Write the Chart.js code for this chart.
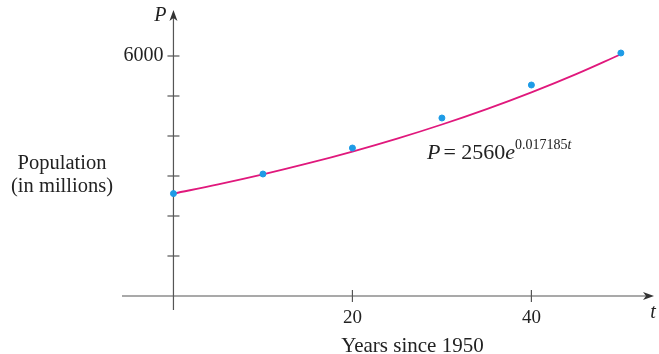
<!DOCTYPE html>
<html>
<head>
<meta charset="utf-8">
<script src="https://cdn.jsdelivr.net/npm/chart.js@4"></script>
<style>
  html, body { margin: 0; padding: 0; background: #fff; }
  #wrap { width: 659px; height: 354px; position: relative; }
</style>
</head>
<body>
<div id="wrap"><canvas id="popChart" width="659" height="354"></canvas></div>
<script>
// data
const years = [0, 10, 20, 30, 40, 50];
const population = [2560, 3050, 3700, 4450, 5275, 6075];

// fitted curve P = 2560 e^(0.017185 t), values written out
const curveT = [0, 5, 10, 15, 20, 25, 30, 35, 40, 45, 50];
const curveP = [2560, 2790, 3040, 3313, 3610, 3934, 4287, 4672, 5091, 5548, 6045];

const xTickLabels = [20, 40];
const yTickValues = [1000, 2000, 3000, 4000, 5000, 6000];
const yTickLabels = ['6000'];

const serif = '"Liberation Serif", "DejaVu Serif", serif';

const axesPlugin = {
    id: 'axesPlugin',
    beforeDatasetsDraw(chart) {
        const ctx = chart.ctx;
        const x = chart.scales.x;
        const y = chart.scales.y;
        const area = chart.chartArea;
        const x0 = x.getPixelForValue(0);
        const y0 = y.getPixelForValue(0);

        ctx.save();
        ctx.strokeStyle = '#555';
        ctx.fillStyle = '#333';
        ctx.lineWidth = 1.2;

        // x axis
        ctx.beginPath();
        ctx.moveTo(area.left, y0);
        ctx.lineTo(area.right - 6, y0);
        ctx.stroke();
        ctx.beginPath();
        ctx.moveTo(area.right, y0);
        ctx.lineTo(area.right - 11, y0 - 4);
        ctx.lineTo(area.right - 8, y0);
        ctx.lineTo(area.right - 11, y0 + 4);
        ctx.closePath();
        ctx.fill();

        // y axis
        ctx.beginPath();
        ctx.moveTo(x0, area.bottom);
        ctx.lineTo(x0, area.top + 6);
        ctx.stroke();
        ctx.beginPath();
        ctx.moveTo(x0, area.top);
        ctx.lineTo(x0 - 4, area.top + 11);
        ctx.lineTo(x0, area.top + 8);
        ctx.lineTo(x0 + 4, area.top + 11);
        ctx.closePath();
        ctx.fill();

        // y ticks
        yTickValues.forEach(v => {
            const py = y.getPixelForValue(v);
            ctx.beginPath();
            ctx.moveTo(x0 - 6, py);
            ctx.lineTo(x0 + 6, py);
            ctx.stroke();
        });
        // x ticks
        xTickLabels.forEach(v => {
            const px = x.getPixelForValue(v);
            ctx.beginPath();
            ctx.moveTo(px, y0 - 6);
            ctx.lineTo(px, y0 + 6);
            ctx.stroke();
        });

        ctx.fillStyle = '#222';
        ctx.font = '20px ' + serif;
        ctx.textAlign = 'right';
        ctx.textBaseline = 'middle';
        yTickLabels.forEach(l => {
            ctx.fillText(l, x0 - 10, y.getPixelForValue(Number(l)));
        });
        ctx.textAlign = 'center';
        ctx.textBaseline = 'middle';
        ctx.font = '19px ' + serif;
        xTickLabels.forEach(v => {
            ctx.fillText(String(v), x.getPixelForValue(v), y0 + 22);
        });

        // axis titles
        ctx.font = '21px ' + serif;
        ctx.fillText('Years since 1950', x.getPixelForValue(26.7), y0 + 50);
        ctx.font = '20.5px ' + serif;
        ctx.fillText('Population', 62, 164);
        ctx.fillText('(in millions)', 62, 187);

        ctx.font = 'italic 20px ' + serif;
        ctx.fillText('P', x0 - 13, area.top + 6);
        ctx.fillText('t', area.right - 1, y0 + 17);

        // equation
        ctx.textAlign = 'left';
        ctx.textBaseline = 'alphabetic';
        let ex = 427;
        const ey = 159;
        ctx.font = 'italic 22px ' + serif;
        ctx.fillText('P', ex, ey);
        ex += ctx.measureText('P').width + 3;
        ctx.font = '22px ' + serif;
        ctx.fillText('= 2560', ex, ey);
        ex += ctx.measureText('= 2560').width;
        ctx.font = 'italic 22px ' + serif;
        ctx.fillText('e', ex, ey);
        ex += ctx.measureText('e').width;
        ctx.font = '14px ' + serif;
        ctx.fillText('0.017185', ex, ey - 10);
        ex += ctx.measureText('0.017185').width;
        ctx.font = 'italic 14px ' + serif;
        ctx.fillText('t', ex, ey - 10);

        ctx.restore();
    }
};

const ctx = document.getElementById('popChart').getContext('2d');
new Chart(ctx, {
    type: 'scatter',
    data: {
        datasets: [{
            label: 'Model',
            data: curveT.map((t, i) => ({ x: t, y: curveP[i] })),
            showLine: true,
            borderColor: '#e0187c',
            borderWidth: 1.8,
            pointRadius: 0,
            tension: 0.4,
            order: 2
        }, {
            label: 'Population',
            data: years.map((t, i) => ({ x: t, y: population[i] })),
            backgroundColor: '#1e9be6',
            borderColor: '#1e9be6',
            pointRadius: 3,
            order: 1
        }]
    },
    options: {
        responsive: false,
        animation: false,
        layout: { padding: { left: 122, right: 4, top: 10, bottom: 44 } },
        scales: {
            x: { type: 'linear', min: -5.75, max: 53.7, display: false },
            y: { type: 'linear', min: -350, max: 7150, display: false }
        },
        plugins: {
            legend: { display: false },
            tooltip: { enabled: false }
        }
    },
    plugins: [axesPlugin]
});
</script>
</body>
</html>
